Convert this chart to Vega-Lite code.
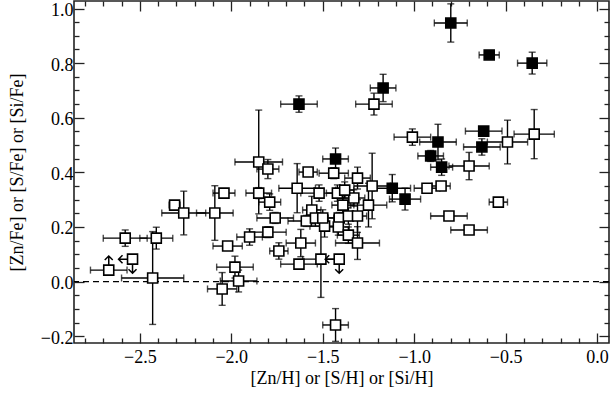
{
  "$schema": "https://vega.github.io/schema/vega-lite/v6.json",
  "width": 535,
  "height": 342,
  "autosize": {"type": "none"},
  "padding": {"left": 74, "top": 1, "right": 1, "bottom": 54},
  "background": "white",
  "config": {
    "view": {"stroke": "#222", "strokeWidth": 1.6}
  },
  "datasets": {
    "pts": [
      {"x": -0.80, "y": 0.947, "xe": 0.09, "ye": 0.07, "f": 1},
      {"x": -0.59, "y": 0.830, "xe": 0.055, "ye": 0.01, "f": 1},
      {"x": -0.355, "y": 0.800, "xe": 0.08, "ye": 0.04, "f": 1},
      {"x": -1.17, "y": 0.709, "xe": 0.07, "ye": 0.05, "f": 1},
      {"x": -1.63, "y": 0.650, "xe": 0.10, "ye": 0.03, "f": 1},
      {"x": -0.62, "y": 0.551, "xe": 0.10, "ye": 0.01, "f": 1},
      {"x": -0.87, "y": 0.511, "xe": 0.10, "ye": 0.065, "f": 1},
      {"x": -0.63, "y": 0.493, "xe": 0.10, "ye": 0.03, "f": 1},
      {"x": -0.91, "y": 0.460, "xe": 0.07, "ye": 0.02, "f": 1},
      {"x": -0.85, "y": 0.419, "xe": 0.06, "ye": 0.03, "f": 1},
      {"x": -1.43, "y": 0.449, "xe": 0.07, "ye": 0.04, "f": 1},
      {"x": -1.12, "y": 0.342, "xe": 0.10, "ye": 0.05, "f": 1},
      {"x": -1.05, "y": 0.302, "xe": 0.085, "ye": 0.04, "f": 1},
      {"x": -2.67, "y": 0.042, "xe": 0.10, "ye": 0, "f": 0},
      {"x": -2.54, "y": 0.082, "xe": 0, "ye": 0, "f": 0},
      {"x": -2.58, "y": 0.159, "xe": 0.12, "ye": 0.03, "f": 0},
      {"x": -2.41, "y": 0.159, "xe": 0.09, "ye": 0.04, "f": 0},
      {"x": -2.43, "y": 0.013, "xe": 0.17, "ye": 0.17, "f": 0},
      {"x": -2.31, "y": 0.280, "xe": 0.03, "ye": 0.01, "f": 0},
      {"x": -2.26, "y": 0.251, "xe": 0.12, "ye": 0.08, "f": 0},
      {"x": -2.09, "y": 0.251, "xe": 0.10, "ye": 0.10, "f": 0},
      {"x": -2.04, "y": 0.324, "xe": 0.06, "ye": 0.01, "f": 0},
      {"x": -1.85, "y": 0.324, "xe": 0.07, "ye": 0.02, "f": 0},
      {"x": -1.85, "y": 0.438, "xe": 0.13, "ye": 0.19, "f": 0},
      {"x": -1.80, "y": 0.412, "xe": 0.06, "ye": 0.035, "f": 0},
      {"x": -1.79, "y": 0.291, "xe": 0.06, "ye": 0.03, "f": 0},
      {"x": -1.76, "y": 0.233, "xe": 0.10, "ye": 0.02, "f": 0},
      {"x": -1.90, "y": 0.163, "xe": 0.07, "ye": 0.03, "f": 0},
      {"x": -1.80, "y": 0.181, "xe": 0.10, "ye": 0.02, "f": 0},
      {"x": -2.02, "y": 0.130, "xe": 0.08, "ye": 0.01, "f": 0},
      {"x": -1.98, "y": 0.053, "xe": 0.10, "ye": 0.04, "f": 0},
      {"x": -1.96, "y": 0.002, "xe": 0.10, "ye": 0.04, "f": 0},
      {"x": -2.05, "y": -0.027, "xe": 0.08, "ye": 0.06, "f": 0},
      {"x": -1.74, "y": 0.112, "xe": 0.05, "ye": 0.03, "f": 0},
      {"x": -1.62, "y": 0.141, "xe": 0.08, "ye": 0.05, "f": 0},
      {"x": -1.63, "y": 0.064, "xe": 0.10, "ye": 0.01, "f": 0},
      {"x": -1.64, "y": 0.342, "xe": 0.10, "ye": 0.09, "f": 0},
      {"x": -1.58, "y": 0.401, "xe": 0.05, "ye": 0.01, "f": 0},
      {"x": -1.52, "y": 0.324, "xe": 0.10, "ye": 0.03, "f": 0},
      {"x": -1.56, "y": 0.262, "xe": 0.05, "ye": 0.05, "f": 0},
      {"x": -1.59, "y": 0.222, "xe": 0.10, "ye": 0.02, "f": 0},
      {"x": -1.54, "y": 0.233, "xe": 0.05, "ye": 0.03, "f": 0},
      {"x": -1.49, "y": 0.203, "xe": 0.08, "ye": 0.04, "f": 0},
      {"x": -1.50, "y": 0.233, "xe": 0.06, "ye": 0.03, "f": 0},
      {"x": -1.44, "y": 0.397, "xe": 0.08, "ye": 0.02, "f": 0},
      {"x": -1.42, "y": 0.324, "xe": 0.06, "ye": 0.03, "f": 0},
      {"x": -1.39, "y": 0.280, "xe": 0.06, "ye": 0.03, "f": 0},
      {"x": -1.41, "y": 0.233, "xe": 0.06, "ye": 0.02, "f": 0},
      {"x": -1.31, "y": 0.379, "xe": 0.07, "ye": 0.04, "f": 0},
      {"x": -1.23, "y": 0.350, "xe": 0.10, "ye": 0.12, "f": 0},
      {"x": -1.25, "y": 0.280, "xe": 0.10, "ye": 0.08, "f": 0},
      {"x": -1.33, "y": 0.306, "xe": 0.06, "ye": 0.03, "f": 0},
      {"x": -1.38, "y": 0.335, "xe": 0.05, "ye": 0.03, "f": 0},
      {"x": -1.36, "y": 0.240, "xe": 0.05, "ye": 0.03, "f": 0},
      {"x": -1.31, "y": 0.240, "xe": 0.05, "ye": 0.06, "f": 0},
      {"x": -1.415, "y": 0.200, "xe": 0.06, "ye": 0.03, "f": 0},
      {"x": -1.36, "y": 0.170, "xe": 0.06, "ye": 0.03, "f": 0},
      {"x": -1.31, "y": 0.141, "xe": 0.12, "ye": 0.06, "f": 0},
      {"x": -1.51, "y": 0.082, "xe": 0.10, "ye": 0.14, "f": 0},
      {"x": -1.41, "y": 0.082, "xe": 0, "ye": 0, "f": 0},
      {"x": -1.43, "y": -0.159, "xe": 0.07, "ye": 0.06, "f": 0},
      {"x": -1.22, "y": 0.650, "xe": 0.10, "ye": 0.04, "f": 0},
      {"x": -1.01, "y": 0.529, "xe": 0.10, "ye": 0.03, "f": 0},
      {"x": -0.49, "y": 0.511, "xe": 0.11, "ye": 0.08, "f": 0},
      {"x": -0.344, "y": 0.540, "xe": 0.11, "ye": 0.09, "f": 0},
      {"x": -0.70, "y": 0.423, "xe": 0.11, "ye": 0.05, "f": 0},
      {"x": -0.853, "y": 0.350, "xe": 0.05, "ye": 0.01, "f": 0},
      {"x": -0.93, "y": 0.342, "xe": 0.07, "ye": 0.01, "f": 0},
      {"x": -0.54, "y": 0.291, "xe": 0.05, "ye": 0.01, "f": 0},
      {"x": -0.81, "y": 0.240, "xe": 0.10, "ye": 0, "f": 0},
      {"x": -0.70, "y": 0.189, "xe": 0.10, "ye": 0, "f": 0}
    ],
    "lims": [
      {"x": -2.67, "y": 0.042, "dir": "up"},
      {"x": -2.54, "y": 0.082, "dir": "left"},
      {"x": -2.54, "y": 0.082, "dir": "down"},
      {"x": -1.41, "y": 0.082, "dir": "left"},
      {"x": -1.41, "y": 0.082, "dir": "down"}
    ],
    "ax": [{"x": -1.0, "y": 0.5}]
  },
  "layer": [
    {
      "data": {"values": [{"y": 0}]},
      "mark": {"type": "rule", "color": "black", "strokeWidth": 1.2, "strokeDash": [6, 4]},
      "encoding": {
        "y": {"field": "y", "type": "quantitative", "scale": {"domain": [-0.225, 1.0275], "nice": false, "zero": false}, "axis": null}
      }
    },
    {
      "data": {"name": "pts"},
      "transform": [{"filter": "datum.xe > 0"}],
      "mark": {"type": "errorbar", "ticks": true, "size": 7, "thickness": 1.4, "color": "black"},
      "encoding": {
        "x": {"field": "x", "type": "quantitative", "scale": {"domain": [-2.86, 0.065], "nice": false, "zero": false}, "axis": null},
        "xError": {"field": "xe"},
        "y": {"field": "y", "type": "quantitative", "scale": {"domain": [-0.225, 1.0275], "nice": false, "zero": false}, "axis": null}
      }
    },
    {
      "data": {"name": "pts"},
      "transform": [{"filter": "datum.ye > 0"}],
      "mark": {"type": "errorbar", "ticks": true, "size": 7, "thickness": 1.4, "color": "black"},
      "encoding": {
        "x": {"field": "x", "type": "quantitative", "scale": {"domain": [-2.86, 0.065], "nice": false, "zero": false}, "axis": null},
        "y": {"field": "y", "type": "quantitative", "scale": {"domain": [-0.225, 1.0275], "nice": false, "zero": false}, "axis": null},
        "yError": {"field": "ye"}
      }
    },
    {
      "data": {"name": "pts"},
      "transform": [{"filter": "datum.f == 0"}],
      "mark": {"type": "square", "size": 100, "fill": "white", "stroke": "black", "strokeWidth": 1.6, "opacity": 1, "fillOpacity": 1},
      "encoding": {
        "x": {"field": "x", "type": "quantitative", "scale": {"domain": [-2.86, 0.065], "nice": false, "zero": false}, "axis": null},
        "y": {"field": "y", "type": "quantitative", "scale": {"domain": [-0.225, 1.0275], "nice": false, "zero": false}, "axis": null}
      }
    },
    {
      "data": {"name": "pts"},
      "transform": [{"filter": "datum.f == 1"}],
      "mark": {"type": "square", "size": 100, "fill": "black", "stroke": "black", "strokeWidth": 1.6, "opacity": 1, "fillOpacity": 1},
      "encoding": {
        "x": {"field": "x", "type": "quantitative", "scale": {"domain": [-2.86, 0.065], "nice": false, "zero": false}, "axis": null},
        "y": {"field": "y", "type": "quantitative", "scale": {"domain": [-0.225, 1.0275], "nice": false, "zero": false}, "axis": null}
      }
    },
    {
      "data": {"name": "lims"},
      "transform": [{"filter": "datum.dir == 'up'"}],
      "mark": {"type": "point", "shape": "M0,-0.5L0,-1.4M-0.4,-1.0L0,-1.4L0.4,-1.0", "size": 400, "filled": false, "stroke": "black", "strokeWidth": 1.5, "opacity": 1},
      "encoding": {
        "x": {"field": "x", "type": "quantitative", "scale": {"domain": [-2.86, 0.065], "nice": false, "zero": false}, "axis": null},
        "y": {"field": "y", "type": "quantitative", "scale": {"domain": [-0.225, 1.0275], "nice": false, "zero": false}, "axis": null}
      }
    },
    {
      "data": {"name": "lims"},
      "transform": [{"filter": "datum.dir == 'down'"}],
      "mark": {"type": "point", "shape": "M0,0.5L0,1.4M-0.4,1.0L0,1.4L0.4,1.0", "size": 400, "filled": false, "stroke": "black", "strokeWidth": 1.5, "opacity": 1},
      "encoding": {
        "x": {"field": "x", "type": "quantitative", "scale": {"domain": [-2.86, 0.065], "nice": false, "zero": false}, "axis": null},
        "y": {"field": "y", "type": "quantitative", "scale": {"domain": [-0.225, 1.0275], "nice": false, "zero": false}, "axis": null}
      }
    },
    {
      "data": {"name": "lims"},
      "transform": [{"filter": "datum.dir == 'left'"}],
      "mark": {"type": "point", "shape": "M-0.5,0L-1.4,0M-1.0,-0.4L-1.4,0L-1.0,0.4", "size": 400, "filled": false, "stroke": "black", "strokeWidth": 1.5, "opacity": 1},
      "encoding": {
        "x": {"field": "x", "type": "quantitative", "scale": {"domain": [-2.86, 0.065], "nice": false, "zero": false}, "axis": null},
        "y": {"field": "y", "type": "quantitative", "scale": {"domain": [-0.225, 1.0275], "nice": false, "zero": false}, "axis": null}
      }
    },
    {
      "data": {"name": "ax"},
      "mark": {"type": "point", "opacity": 0},
      "encoding": {
        "x": {"field": "x", "type": "quantitative", "scale": {"domain": [-2.86, 0.065], "nice": false, "zero": false},
          "axis": {"orient": "bottom", "title": "[Zn/H] or [S/H] or [Si/H]", "titlePadding": 3,
            "domain": false, "grid": false, "ticks": false,
            "labelFont": "Liberation Serif", "labelFontSize": 18, "labelColor": "black",
            "titleFont": "Liberation Serif", "titleFontSize": 18, "titleFontWeight": "normal", "titleColor": "black",
            "values": [-2.5, -2.0, -1.5, -1.0, -0.5, 0.0], "format": ".1f",
            "labelPadding": 5, "labelFlush": false, "labelOverlap": false,
            "encode": {"labels": {"update": {"font": {"value": "Liberation Serif"}, "fontSize": {"value": 18}, "fill": {"value": "black"}}}}}},
        "y": {"field": "y", "type": "quantitative", "scale": {"domain": [-0.225, 1.0275], "nice": false, "zero": false},
          "axis": {"orient": "left", "title": "[Zn/Fe] or [S/Fe] or [Si/Fe]", "titlePadding": 14,
            "domain": false, "grid": false, "ticks": false,
            "labelFont": "Liberation Serif", "labelFontSize": 18, "labelColor": "black",
            "titleFont": "Liberation Serif", "titleFontSize": 18, "titleFontWeight": "normal", "titleColor": "black",
            "values": [-0.2, 0.0, 0.2, 0.4, 0.6, 0.8, 1.0], "format": ".1f",
            "labelPadding": 1, "labelOffset": 2, "labelFlush": false, "labelOverlap": false,
            "encode": {"labels": {"update": {"font": {"value": "Liberation Serif"}, "fontSize": {"value": 18}, "fill": {"value": "black"}}}}}}
      }
    },
    {
      "data": {"name": "ax"},
      "mark": {"type": "point", "opacity": 0},
      "encoding": {
        "x": {"field": "x", "type": "quantitative", "scale": {"domain": [-2.86, 0.065], "nice": false, "zero": false},
          "axis": {"orient": "top", "offset": -342, "title": null, "labels": false, "domain": false, "grid": false, "ticks": true, "tickColor": "#222", "tickWidth": 1.3,
            "values": [-2.8, -2.7, -2.6, -2.5, -2.4, -2.3, -2.2, -2.1, -2.0, -1.9, -1.8, -1.7, -1.6, -1.5, -1.4, -1.3, -1.2, -1.1, -1.0, -0.9, -0.8, -0.7, -0.6, -0.5, -0.4, -0.3, -0.2, -0.1, 0.0],
            "tickSize": {"condition": {"test": "abs(datum.value*2 - round(datum.value*2)) < 0.001", "value": 10}, "value": 5}}},
        "y": {"field": "y", "type": "quantitative", "scale": {"domain": [-0.225, 1.0275], "nice": false, "zero": false},
          "axis": {"orient": "right", "offset": -535, "title": null, "labels": false, "domain": false, "grid": false, "ticks": true, "tickColor": "#222", "tickWidth": 1.3,
            "values": [-0.2, -0.15, -0.1, -0.05, 0.0, 0.05, 0.1, 0.15, 0.2, 0.25, 0.3, 0.35, 0.4, 0.45, 0.5, 0.55, 0.6, 0.65, 0.7, 0.75, 0.8, 0.85, 0.9, 0.95, 1.0],
            "tickSize": {"condition": {"test": "abs(datum.value*5 - round(datum.value*5)) < 0.001", "value": 10}, "value": 5}}}
      }
    },
    {
      "data": {"name": "ax"},
      "mark": {"type": "point", "opacity": 0},
      "encoding": {
        "x": {"field": "x", "type": "quantitative", "scale": {"domain": [-2.86, 0.065], "nice": false, "zero": false},
          "axis": {"orient": "bottom", "offset": -342, "title": null, "labels": false, "domain": false, "grid": false, "ticks": true, "tickColor": "#222", "tickWidth": 1.3,
            "values": [-2.8, -2.7, -2.6, -2.5, -2.4, -2.3, -2.2, -2.1, -2.0, -1.9, -1.8, -1.7, -1.6, -1.5, -1.4, -1.3, -1.2, -1.1, -1.0, -0.9, -0.8, -0.7, -0.6, -0.5, -0.4, -0.3, -0.2, -0.1, 0.0],
            "tickSize": {"condition": {"test": "abs(datum.value*2 - round(datum.value*2)) < 0.001", "value": 10}, "value": 5}}},
        "y": {"field": "y", "type": "quantitative", "scale": {"domain": [-0.225, 1.0275], "nice": false, "zero": false},
          "axis": {"orient": "left", "offset": -535, "title": null, "labels": false, "domain": false, "grid": false, "ticks": true, "tickColor": "#222", "tickWidth": 1.3,
            "values": [-0.2, -0.15, -0.1, -0.05, 0.0, 0.05, 0.1, 0.15, 0.2, 0.25, 0.3, 0.35, 0.4, 0.45, 0.5, 0.55, 0.6, 0.65, 0.7, 0.75, 0.8, 0.85, 0.9, 0.95, 1.0],
            "tickSize": {"condition": {"test": "abs(datum.value*5 - round(datum.value*5)) < 0.001", "value": 10}, "value": 5}}}
      }
    }
  ],
  "resolve": {"axis": {"x": "independent", "y": "independent"}}
}
